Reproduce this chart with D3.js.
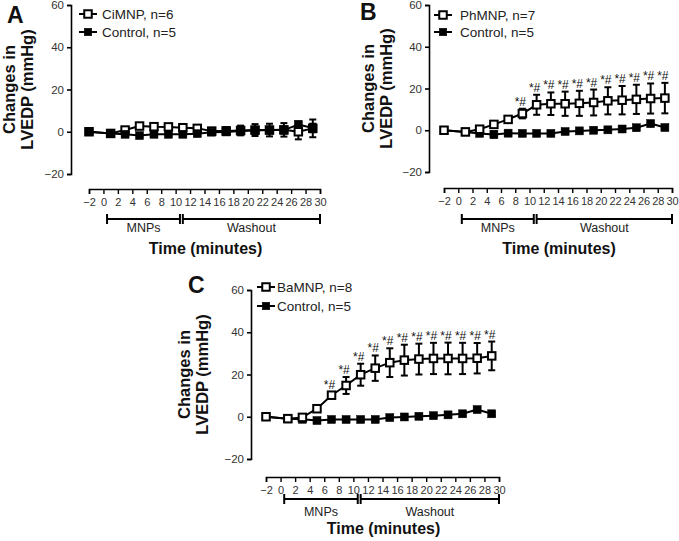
<!DOCTYPE html>
<html><head><meta charset="utf-8">
<script src="https://cdn.jsdelivr.net/npm/d3@7"></script>
<style>
body{margin:0;background:#fff;}
svg{display:block;font-family:Arial, "Liberation Sans", Helvetica, sans-serif;}
</style></head>
<body>
<svg id="chart" width="679" height="541"></svg>
<script>
// ---------- DATA ----------
const times = [-2, 1, 3, 5, 7, 9, 11, 13, 15, 17, 19, 21, 23, 25, 27, 29];
const xTicks = [-2, 0, 2, 4, 6, 8, 10, 12, 14, 16, 18, 20, 22, 24, 26, 28, 30];
const yTicks = [-20, 0, 20, 40, 60];

const ciMNP      = [0, -0.8, 0.8, 2.7, 2.4, 2.3, 1.9, 1.6, 0.3, 0.4, 0.6, 0.8, 0.8, 0.9, 0, 1.6];
const ciMNPErr   = [0.4, 0.5, 0.8, 1.2, 1.2, 1.2, 1.2, 1.2, 1.5, 1.8, 2.3, 2.8, 3.0, 3.2, 3.6, 4.2];
const ctrlA      = [0, -0.8, -1.2, -1.8, -1.2, -1.2, -1.2, -0.9, -0.2, -0.1, 0.3, 0.6, 0.8, 0.8, 3.4, 1.8];
const ctrlAErr   = [0.3, 0.4, 0.6, 1.0, 0.8, 0.8, 0.8, 0.8, 1.0, 1.0, 1.2, 1.4, 1.5, 1.6, 1.5, 2.0];

const phMNP      = [0, -0.8, 0.5, 2.8, 5.2, 8.0, 12.2, 12.7, 12.7, 12.9, 13.3, 14.1, 14.4, 14.8, 15.2, 15.4];
const phMNPErr   = [0.3, 0.5, 0.8, 1.0, 1.2, 2.3, 4.8, 5.4, 5.8, 6.0, 6.2, 6.5, 6.8, 7.0, 7.2, 7.3];
const ctrlB      = [0, -0.8, -1.5, -2.0, -1.4, -1.5, -1.5, -1.5, -0.6, -0.3, 0, 0.2, 0.6, 1.2, 3.2, 1.3];
const ctrlBErr   = [0.3, 0.3, 0.5, 1.5, 1.0, 1.0, 1.0, 1.0, 0.3, 0.3, 0.3, 0.3, 0.3, 0.4, 1.3, 1.2];

const baMNP      = [0, -0.9, -0.3, 3.8, 10.2, 14.8, 19.9, 23.0, 25.6, 26.8, 27.3, 27.6, 27.6, 27.6, 27.7, 28.8];
const baMNPErr   = [0.3, 0.4, 0.5, 0.8, 1.5, 4.0, 5.2, 6.0, 6.8, 7.3, 7.3, 7.4, 7.5, 7.4, 7.2, 6.8];
const ctrlC      = [0, -1.0, -1.2, -1.8, -1.3, -1.3, -1.3, -1.3, -0.4, -0.1, 0.2, 0.5, 0.9, 1.4, 3.4, 1.4];
const ctrlCErr   = [0.3, 0.4, 0.5, 1.0, 0.6, 0.6, 0.6, 0.6, 0.3, 0.3, 0.3, 0.3, 0.4, 0.5, 1.2, 1.0];

const sigB = [false, false, false, false, false, true, true, true, true, true, true, true, true, true, true, true];
const sigC = [false, false, false, false, true, true, true, true, true, true, true, true, true, true, true, true];
const sigA = times.map(() => false);

const periods = [{label: "MNPs", from: 0.5, to: 10.6}, {label: "Washout", from: 11, to: 30}];

// ---------- DRAW ----------
const svg = d3.select("#chart");

const panels = [
  {letter: "A", name: "CiMNP, n=6", t: ciMNP, te: ciMNPErr, c: ctrlA, ce: ctrlAErr, sig: sigA,
   ax: 71, yr: [174, 5], xr: [89, 320], xAxisY: 189, brY: 219, mnpY: 232, timeY: 254,
   lx: 7, ly: 23, yl1: 15, yl2: 33, legX: 79, legTx: 102, legY: [14, 32], ctrlTop: true},
  {letter: "B", name: "PhMNP, n=7", t: phMNP, te: phMNPErr, c: ctrlB, ce: ctrlBErr, sig: sigB,
   ax: 429, yr: [172, 5], xr: [444, 672], xAxisY: 188, brY: 219, mnpY: 232, timeY: 254,
   lx: 360, ly: 20, yl1: 374, yl2: 392, legX: 434, legTx: 460, legY: [15, 32], ctrlTop: false},
  {letter: "C", name: "BaMNP, n=8", t: baMNP, te: baMNPErr, c: ctrlC, ce: ctrlCErr, sig: sigC,
   ax: 251, yr: [459, 290], xr: [266, 499], xAxisY: 477, brY: 499, mnpY: 516, timeY: 534,
   lx: 188, ly: 293, yl1: 190, yl2: 208, legX: 257, legTx: 277, legY: [287, 306], ctrlTop: false}
];

panels.forEach(p => {
  const g = svg.append("g");
  const x = d3.scaleLinear().domain([-2, 30]).range(p.xr);
  const y = d3.scaleLinear().domain([-20, 60]).range(p.yr);

  // y axis
  const ya = g.append("g").attr("transform", `translate(${p.ax},0)`)
    .call(d3.axisLeft(y).tickValues(yTicks).tickSize(4).tickSizeOuter(4).tickPadding(3));
  ya.select(".domain").attr("stroke-width", 1.6);
  ya.selectAll(".tick line").attr("stroke-width", 1.6);
  ya.selectAll(".tick text").attr("font-size", 11.5).attr("fill", "#333").attr("font-family", "Arial, 'Liberation Sans', sans-serif");

  // x axis
  const xa = g.append("g").attr("transform", `translate(0,${p.xAxisY})`)
    .call(d3.axisBottom(x).tickValues(xTicks).tickSize(5).tickSizeOuter(5).tickPadding(4));
  xa.select(".domain").attr("stroke-width", 1.6);
  xa.selectAll(".tick line").attr("stroke-width", 1.4);
  xa.selectAll(".tick text").attr("font-size", 11).attr("fill", "#333").attr("font-family", "Arial, 'Liberation Sans', sans-serif");

  // period brackets
  periods.forEach(pr => {
    const b = g.append("g").attr("stroke", "#000").attr("stroke-width", 2);
    b.append("line").attr("x1", x(pr.from)).attr("x2", x(pr.to)).attr("y1", p.brY).attr("y2", p.brY);
    b.append("line").attr("x1", x(pr.from)).attr("x2", x(pr.from)).attr("y1", p.brY - 5).attr("y2", p.brY + 5);
    b.append("line").attr("x1", x(pr.to)).attr("x2", x(pr.to)).attr("y1", p.brY - 5).attr("y2", p.brY + 5);
    g.append("text").attr("x", x((pr.from + pr.to) / 2)).attr("y", p.mnpY)
      .attr("text-anchor", "middle").attr("font-size", 12.5).attr("fill", "#222").text(pr.label);
  });

  g.append("text").attr("x", (p.xr[0] + p.xr[1]) / 2 + 1).attr("y", p.timeY)
    .attr("text-anchor", "middle").attr("font-size", 16).attr("font-weight", "bold").attr("fill", "#111")
    .text("Time (minutes)");

  // y label
  const yc = (p.yr[0] + p.yr[1]) / 2;
  g.append("text").attr("transform", `translate(${p.yl1},${yc}) rotate(-90)`)
    .attr("text-anchor", "middle").attr("font-size", 16.5).attr("font-weight", "bold").attr("fill", "#111")
    .text("Changes in");
  g.append("text").attr("transform", `translate(${p.yl2},${yc}) rotate(-90)`)
    .attr("text-anchor", "middle").attr("font-size", 16.5).attr("font-weight", "bold").attr("fill", "#111")
    .text("LVEDP (mmHg)");

  // letter
  g.append("text").attr("x", p.lx).attr("y", p.ly).attr("font-size", 23).attr("font-weight", "bold")
    .attr("fill", "#111").text(p.letter);

  const line = d3.line().x(d => x(d[0])).y(d => y(d[1]));

  function drawSeries(vals, errs, open) {
    const sg = g.append("g");
    const pts = times.map((t, i) => [t, vals[i], errs[i]]);
    sg.append("path").datum(pts).attr("d", line).attr("fill", "none").attr("stroke", "#000").attr("stroke-width", 2);
    const eb = sg.append("g").attr("stroke", "#000").attr("stroke-width", 2);
    pts.forEach(d => {
      const cx = x(d[0]), top = y(d[1] + d[2]), bot = y(d[1] - d[2]);
      eb.append("line").attr("x1", cx).attr("x2", cx).attr("y1", top).attr("y2", bot);
      eb.append("line").attr("x1", cx - 3.5).attr("x2", cx + 3.5).attr("y1", top).attr("y2", top);
      eb.append("line").attr("x1", cx - 3.5).attr("x2", cx + 3.5).attr("y1", bot).attr("y2", bot);
    });
    const s = open ? 7.5 : 8;
    sg.selectAll("rect").data(pts).join("rect")
      .attr("x", d => x(d[0]) - s / 2).attr("y", d => y(d[1]) - s / 2)
      .attr("width", s).attr("height", s)
      .attr("fill", open ? "#fff" : "#000").attr("stroke", "#000").attr("stroke-width", open ? 2 : 0.5);
  }

  if (p.ctrlTop) { drawSeries(p.t, p.te, true); drawSeries(p.c, p.ce, false); }
  else { drawSeries(p.c, p.ce, false); drawSeries(p.t, p.te, true); }

  // significance marks
  times.forEach((t, i) => {
    if (!p.sig[i]) return;
    g.append("text").attr("x", x(t) - 2).attr("y", y(p.t[i] + p.te[i]) - 3)
      .attr("text-anchor", "middle").attr("font-size", 12).attr("fill", "#111").text("*#");
  });

  // legend
  const leg = [{label: p.name, open: true}, {label: "Control, n=5", open: false}];
  leg.forEach((l, i) => {
    const ly = p.legY[i];
    g.append("line").attr("x1", p.legX).attr("x2", p.legX + 18).attr("y1", ly).attr("y2", ly)
      .attr("stroke", "#000").attr("stroke-width", 2);
    g.append("rect").attr("x", p.legX + 9 - 3.75).attr("y", ly - 3.75).attr("width", 7.5).attr("height", 7.5)
      .attr("fill", l.open ? "#fff" : "#000").attr("stroke", "#000").attr("stroke-width", l.open ? 2 : 0.5);
    g.append("text").attr("x", p.legTx).attr("y", ly + 4.5).attr("font-size", 13.5).attr("fill", "#222").text(l.label);
  });
});
</script>
</body></html>
